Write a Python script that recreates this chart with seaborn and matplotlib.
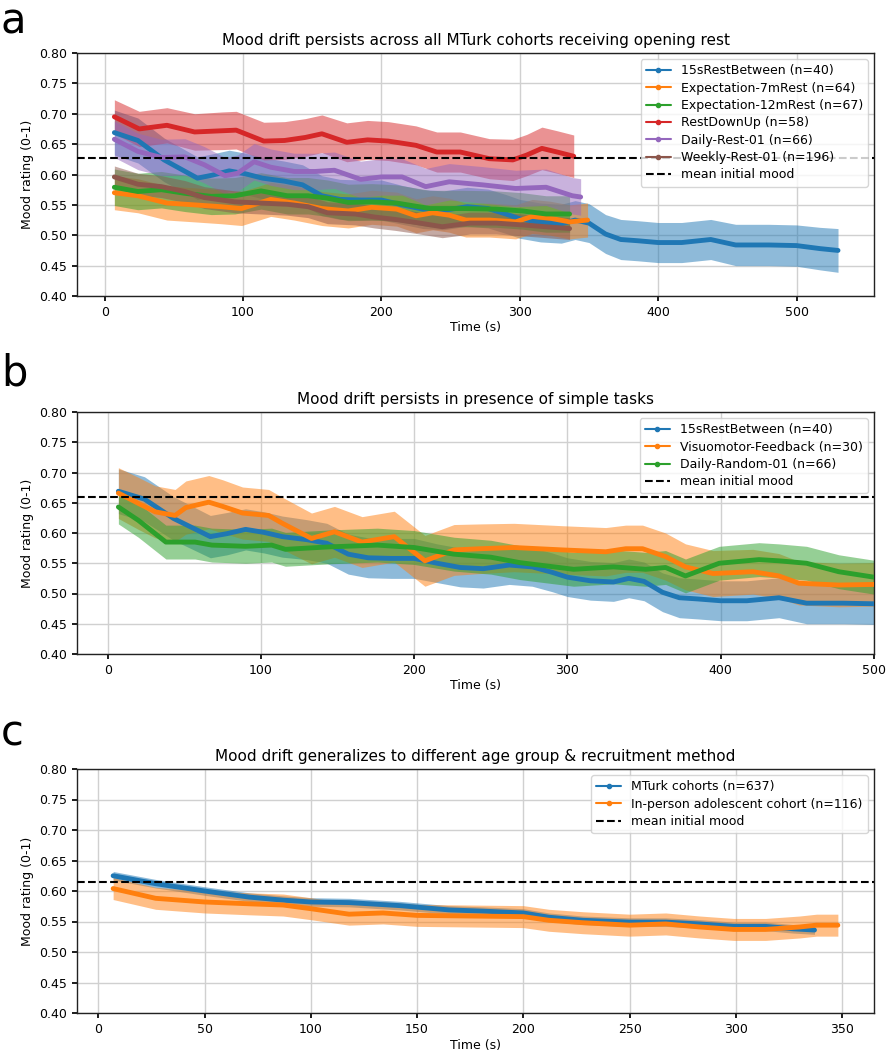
import numpy as np
import matplotlib
matplotlib.use("Agg")
import matplotlib.pyplot as plt
from matplotlib.lines import Line2D
import seaborn as sns

# ---------------- data ----------------
# Panel a / b shared cohort
t_15s = [7, 24, 43, 67, 78, 90, 102, 114, 130, 143, 157, 170, 185, 200, 215, 230, 245, 262, 277, 290,
         300, 315, 330, 340, 350, 362, 373, 385, 400, 417, 438, 456, 480, 500, 517, 530]
v_15s = [0.669, 0.656, 0.624, 0.594, 0.599, 0.606, 0.601, 0.594, 0.589, 0.583, 0.565, 0.559, 0.558, 0.558,
         0.550, 0.543, 0.541, 0.547, 0.544, 0.535, 0.527, 0.521, 0.519, 0.525, 0.520, 0.502, 0.493, 0.491,
         0.488, 0.488, 0.493, 0.484, 0.484, 0.483, 0.478, 0.475]
e_15s = [0.037, 0.037, 0.036, 0.035, 0.035, 0.034, 0.034, 0.034, 0.033, 0.033, 0.033, 0.033, 0.033, 0.033,
         0.032, 0.032, 0.032, 0.032, 0.032, 0.032, 0.032, 0.032, 0.032, 0.032, 0.032, 0.032, 0.033, 0.033,
         0.033, 0.033, 0.033, 0.034, 0.034, 0.034, 0.035, 0.036]

t_exp7 = [7, 24, 45, 65, 84, 99, 120, 137, 157, 176, 193, 211, 225, 237, 249, 261, 278, 297, 309, 322, 336, 349]
v_exp7 = [0.570, 0.565, 0.553, 0.550, 0.547, 0.544, 0.559, 0.553, 0.544, 0.540, 0.546, 0.543, 0.532, 0.537,
          0.533, 0.525, 0.525, 0.522, 0.531, 0.528, 0.522, 0.525]
e_exp7 = [0.028] * len(t_exp7)

t_exp12 = [7, 24, 41, 58, 77, 94, 113, 132, 147, 161, 176, 193, 211, 235, 259, 283, 302, 319, 336]
v_exp12 = [0.579, 0.572, 0.575, 0.569, 0.564, 0.565, 0.573, 0.565, 0.565, 0.561, 0.554, 0.555, 0.553, 0.544,
           0.544, 0.543, 0.540, 0.535, 0.535]
e_exp12 = [0.030] * len(t_exp12)

t_rdu = [7, 25, 45, 65, 85, 95, 115, 130, 145, 157, 175, 190, 205, 225, 240, 257, 278, 295, 305, 316, 327, 339]
v_rdu = [0.695, 0.675, 0.681, 0.670, 0.672, 0.673, 0.655, 0.656, 0.661, 0.667, 0.653, 0.657, 0.655, 0.648,
         0.637, 0.637, 0.626, 0.624, 0.632, 0.643, 0.637, 0.630]
e_rdu = [0.028, 0.029, 0.029, 0.030, 0.031, 0.031, 0.031, 0.031, 0.031, 0.031, 0.032, 0.032, 0.032, 0.032,
         0.033, 0.033, 0.033, 0.034, 0.034, 0.035, 0.035, 0.035]

t_dr01 = [7, 24, 41, 58, 72, 87, 96, 108, 120, 137, 152, 166, 185, 200, 215, 232, 249, 273, 297, 319, 338, 344]
v_dr01 = [0.658, 0.638, 0.628, 0.629, 0.616, 0.598, 0.602, 0.621, 0.612, 0.605, 0.605, 0.607, 0.592, 0.596,
          0.596, 0.580, 0.588, 0.583, 0.577, 0.579, 0.565, 0.563]
e_dr01 = [0.030] * len(t_dr01)

t_wr01 = [7, 24, 41, 58, 72, 94, 113, 132, 147, 161, 181, 195, 210, 225, 244, 264, 283, 302, 319, 336]
v_wr01 = [0.596, 0.584, 0.580, 0.572, 0.562, 0.555, 0.553, 0.551, 0.547, 0.537, 0.535, 0.530, 0.526, 0.521,
          0.514, 0.520, 0.520, 0.517, 0.514, 0.511]
e_wr01 = [0.018] * len(t_wr01)

# Panel b
t_vm = [7, 20, 31, 44, 51, 66, 75, 88, 105, 114, 133, 148, 166, 187, 207, 226, 243, 265, 297, 325, 338, 349,
        364, 377, 395, 421, 438, 451, 477, 500]
v_vm = [0.666, 0.649, 0.635, 0.629, 0.642, 0.651, 0.644, 0.633, 0.629, 0.616, 0.591, 0.602, 0.585, 0.594,
        0.554, 0.572, 0.574, 0.576, 0.572, 0.569, 0.574, 0.574, 0.561, 0.544, 0.533, 0.536, 0.529, 0.517,
        0.514, 0.515]
e_vm = [0.042, 0.043, 0.043, 0.043, 0.044, 0.044, 0.044, 0.043, 0.043, 0.043, 0.042, 0.042, 0.042, 0.042,
        0.042, 0.042, 0.041, 0.040, 0.040, 0.040, 0.039, 0.039, 0.039, 0.038, 0.038, 0.037, 0.037, 0.036,
        0.036, 0.036]

t_drand = [7, 20, 38, 57, 68, 90, 107, 116, 144, 176, 200, 226, 250, 269, 304, 330, 351, 364, 377, 399, 425,
           438, 456, 477, 500]
v_drand = [0.643, 0.621, 0.585, 0.585, 0.580, 0.578, 0.580, 0.573, 0.577, 0.580, 0.576, 0.565, 0.560, 0.551,
           0.540, 0.544, 0.540, 0.543, 0.529, 0.550, 0.556, 0.554, 0.550, 0.536, 0.527]
e_drand = [0.028] * len(t_drand)

# Panel c
t_mturk = [7, 27, 50, 71, 87, 100, 118, 142, 165, 181, 200, 212, 228, 250, 267, 283, 299, 314, 327, 337]
v_mturk = [0.625, 0.612, 0.600, 0.590, 0.585, 0.582, 0.581, 0.576, 0.569, 0.567, 0.564, 0.557, 0.552, 0.549,
           0.549, 0.546, 0.542, 0.542, 0.538, 0.536]
e_mturk = [0.007] * len(t_mturk)

t_adol = [7, 27, 50, 71, 87, 100, 118, 134, 150, 175, 200, 212, 228, 250, 267, 283, 299, 314, 330, 338, 348]
v_adol = [0.604, 0.588, 0.582, 0.579, 0.577, 0.571, 0.562, 0.564, 0.560, 0.559, 0.558, 0.552, 0.548, 0.544,
          0.546, 0.541, 0.537, 0.537, 0.541, 0.544, 0.544]
e_adol = [0.018] * len(t_adol)

init_mood = [0.627, 0.659, 0.614]
titles = ["Mood drift persists across all MTurk cohorts receiving opening rest",
          "Mood drift persists in presence of simple tasks",
          "Mood drift generalizes to different age group & recruitment method"]
panel_letters = ["a", "b", "c"]

panels = [
    [("15sRestBetween (n=40)", t_15s, v_15s, e_15s),
     ("Expectation-7mRest (n=64)", t_exp7, v_exp7, e_exp7),
     ("Expectation-12mRest (n=67)", t_exp12, v_exp12, e_exp12),
     ("RestDownUp (n=58)", t_rdu, v_rdu, e_rdu),
     ("Daily-Rest-01 (n=66)", t_dr01, v_dr01, e_dr01),
     ("Weekly-Rest-01 (n=196)", t_wr01, v_wr01, e_wr01)],
    [("15sRestBetween (n=40)", t_15s, v_15s, e_15s),
     ("Visuomotor-Feedback (n=30)", t_vm, v_vm, e_vm),
     ("Daily-Random-01 (n=66)", t_drand, v_drand, e_drand)],
    [("MTurk cohorts (n=637)", t_mturk, v_mturk, e_mturk),
     ("In-person adolescent cohort (n=116)", t_adol, v_adol, e_adol)],
]

# ---------------- style ----------------
sns.set_theme(style="ticks", rc={
    "axes.grid": True, "grid.color": "#d0d0d0", "grid.linewidth": 1.0,
    "axes.edgecolor": "#222222", "axes.linewidth": 1.0,
    "xtick.major.size": 3.5, "ytick.major.size": 3.5,
    "text.color": "black", "axes.labelcolor": "black",
    "xtick.color": "black", "ytick.color": "black",
})
plt.rcParams["font.family"] = ["DejaVu Sans"]

palette = sns.color_palette("tab10")

fig = plt.figure(figsize=(8.86, 10.5), dpi=100)
W, H = 886, 1050
ax_px = [(53, 296), (412, 654), (769, 1013)]
letter_base = [33, 386, 746]
left_px, right_px = 77, 874
xlims = [(-20, 556), (-20, 500), (-10, 365)]
xticks = [np.arange(0, 501, 100), np.arange(0, 501, 100), np.arange(0, 351, 50)]

for i, (top, bot) in enumerate(ax_px):
    ax = fig.add_axes([left_px / W, 1 - bot / H, (right_px - left_px) / W, (bot - top) / H])
    series = panels[i]
    for j, (lab, t, v, e) in enumerate(series):
        t = np.asarray(t); v = np.asarray(v); e = np.asarray(e)
        ax.fill_between(t, v - e, v + e, color=palette[j], alpha=0.5, lw=0, zorder=2)
    handles = []
    for j, (lab, t, v, e) in enumerate(series):
        sns.lineplot(x=t, y=v, ax=ax, color=palette[j], linewidth=3.5, sort=False,
                     solid_capstyle="round", zorder=3, legend=False)
        handles.append(Line2D([], [], color=palette[j], lw=1.5, marker=".", markersize=6, label=lab))
    ax.axhline(init_mood[i], color="black", ls="--", lw=1.5, zorder=4)
    handles.append(Line2D([], [], color="black", ls="--", lw=1.5, label="mean initial mood"))
    ax.set_ylim(0.40, 0.80)
    ax.set_yticks(np.arange(0.40, 0.801, 0.05))
    ax.set_yticklabels([f"{y:.2f}" for y in np.arange(0.40, 0.801, 0.05)], fontsize=9)
    ax.set_xlim(*xlims[i])
    ax.set_xticks(xticks[i])
    ax.set_xticklabels([str(x) for x in xticks[i]], fontsize=9)
    ax.set_xlabel("Time (s)", fontsize=9, labelpad=2)
    ax.set_ylabel("Mood rating (0-1)", fontsize=9)
    ax.set_title(titles[i], fontsize=11, pad=6)
    ax.legend(handles=handles, loc="upper right", fontsize=9, framealpha=0.8,
              labelspacing=0.35, handlelength=2.0, borderpad=0.4, edgecolor="#cccccc")
    for s in ax.spines.values():
        s.set_visible(True)
    fig.text(0.001, 1 - letter_base[i] / H, panel_letters[i], fontsize=30, va="baseline", ha="left",
             color="black")

fig.savefig("out.png", dpi=100)
